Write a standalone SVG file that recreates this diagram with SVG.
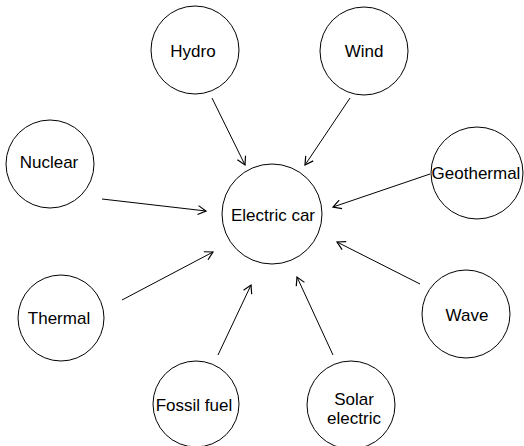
<svg xmlns="http://www.w3.org/2000/svg" width="524" height="446" viewBox="0 0 524 446">
<style>
  .node circle { fill: #ffffff; stroke: #000000; stroke-width: 1; }
  .node text { font-family: "Liberation Sans", Arial, sans-serif; font-size: 17px; fill: #000000; text-anchor: middle; dominant-baseline: central; }
  .edges line { stroke: #000000; stroke-width: 1; marker-end: url(#arrow); }
</style>
<defs>
  <marker id="arrow" markerUnits="userSpaceOnUse" markerWidth="12" markerHeight="12" viewBox="0 0 12 12" refX="10" refY="6" orient="auto">
    <path d="M2,1.5 L10,6 L2,10.5" fill="none" stroke="#000000" stroke-width="1.2"/>
  </marker>
</defs>
<rect width="524" height="446" fill="#ffffff"/>
<g id="edges" class="edges">
  <line x1="212" y1="98" x2="245" y2="165"/>
  <line x1="350" y1="98" x2="305" y2="165"/>
  <line x1="102" y1="199" x2="206" y2="211"/>
  <line x1="430" y1="174" x2="333" y2="207"/>
  <line x1="122" y1="300" x2="213" y2="252"/>
  <line x1="218" y1="355" x2="251" y2="285"/>
  <line x1="333" y1="355" x2="297" y2="277"/>
  <line x1="420" y1="284" x2="337" y2="242"/>
</g>
<g id="hydro" class="node"><circle cx="195" cy="50" r="44"/><text x="193" y="51">Hydro</text></g>
<g id="wind" class="node"><circle cx="364" cy="51" r="44"/><text x="364" y="51">Wind</text></g>
<g id="nuclear" class="node"><circle cx="50" cy="164" r="44"/><text x="49" y="162">Nuclear</text></g>
<g id="geothermal" class="node"><circle cx="477" cy="173" r="46"/><text x="476" y="173">Geothermal</text></g>
<g id="electric-car" class="node"><circle cx="272" cy="214" r="50"/><text x="273" y="215">Electric car</text></g>
<g id="thermal" class="node"><circle cx="61" cy="318" r="43"/><text x="59" y="318">Thermal</text></g>
<g id="wave" class="node"><circle cx="466" cy="314" r="44"/><text x="467" y="315">Wave</text></g>
<g id="fossil-fuel" class="node"><circle cx="196" cy="404" r="43"/><text x="194" y="405">Fossil fuel</text></g>
<g id="solar-electric" class="node"><circle cx="351" cy="405" r="44"/><text x="354" y="399">Solar</text><text x="354" y="418">electric</text></g>
</svg>
